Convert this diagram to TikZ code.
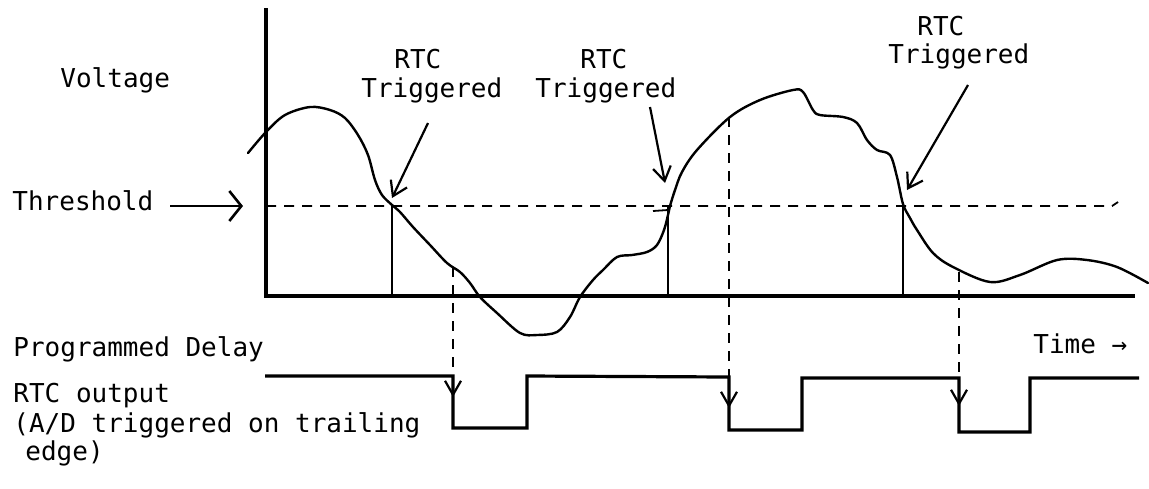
\documentclass[tikz,border=0pt]{standalone}
\usepackage{fontspec}
\setmonofont{DejaVu Sans Mono}
\usetikzlibrary{arrows.meta}
\begin{document}
\begin{tikzpicture}[x=0.5pt,y=-0.5pt,
  lbl/.style={font=\ttfamily\fontsize{13}{13}\selectfont, inner sep=0pt, anchor=base west},
  axisline/.style={line width=1.7pt},
  wave/.style={line width=1.2pt, line join=round, line cap=round},
  thinline/.style={line width=0.9pt},
  dsh/.style={line width=0.9pt, dash pattern=on 5pt off 4pt},
  ptr/.style={line width=1.1pt, -{Straight Barb[length=7pt,width=9pt,line width=1.1pt]}},
  bigptr/.style={line width=1.3pt, -{Straight Barb[length=6pt,width=15pt,line width=1.3pt]}},
  edgeptr/.style={line width=1.1pt, -{Straight Barb[length=7pt,width=8pt,line width=1.1pt]}},
  pulse/.style={line width=1.6pt, line join=miter},
]
\useasboundingbox (0,0) rectangle (1149,488);

% labels
\node[lbl] (volt) at (60,87) {Voltage};
\node[lbl] (thr) at (12,210) {Threshold};
\node[lbl] (rtcA) at (394,68) {RTC};
\node[lbl] (trgA) at (361,97) {Triggered};
\node[lbl] (rtcB) at (580,68) {RTC};
\node[lbl] (trgB) at (535,97) {Triggered};
\node[lbl] (rtcC) at (917,35) {RTC};
\node[lbl] (trgC) at (888,63) {Triggered};
\node[lbl] (pdel) at (13,356) {Programmed Delay};
\node[lbl, align=left, font=\ttfamily\fontsize{13}{11.5}\selectfont] (rout) at (13,460)
  {RTC output\\[1.5pt](A/D triggered on trailing\\\hspace*{6pt}edge)};
\node[lbl] (time) at (1033,353) {Time →};

% coordinates
\coordinate (yTop) at (266,8);
\coordinate (orig) at (266,296);
\coordinate (xEnd) at (1135,296);
\coordinate (thL) at (266,206);
\coordinate (thR) at (1112,206);
\coordinate (thRR) at (1118,202);
\coordinate (thA1) at (170,206);
\coordinate (thA2) at (243,206);
\coordinate (c1) at (392,206);
\coordinate (c2) at (668,206);
\coordinate (c3) at (903,206);
\coordinate (b1) at (392,296);
\coordinate (b2) at (668,296);
\coordinate (b3) at (903,296);
\coordinate (s1) at (428,123);
\coordinate (t1) at (392,198);
\coordinate (s2) at (650,107);
\coordinate (t2) at (665,183);
\coordinate (s3) at (968,85);
\coordinate (t3) at (907,190);
\coordinate (d1) at (453,267);
\coordinate (d2) at (729,117);
\coordinate (d3) at (959,272);
\coordinate (h1) at (453,376);
\coordinate (h2) at (729,377);
\coordinate (h3) at (959,378);
\coordinate (e1) at (453,397);
\coordinate (e2) at (729,408);
\coordinate (e3) at (959,406);

% axes
\draw[axisline] (yTop) -- (orig) -- (xEnd);

% threshold
\draw[dsh] (thL) -- (thR) -- (thRR);
\draw[bigptr] (thA1) -- (thA2);

% voltage curve
\draw[wave] plot[smooth, tension=0.55] coordinates {
 (248,153) (266,132) (285,115) (310,107) (330,110) (345,118) (358,135)
 (368,155) (375,180) (382,195) (392,205) (400,212) (413,227) (430,245)
 (447,263) (460,272) (470,283) (480,297) (497,313) (520,333) (537,335)
 (557,332) (570,317) (580,297) (593,280) (603,270) (617,257) (632,255)
 (647,252) (657,245) (664,230) (668,215) (670,206) (675,190) (682,172)
 (697,150) (730,117) (760,100) (793,90) (803,92) (813,110) (820,115)
 (843,117) (857,123) (867,140) (877,150) (890,155) (897,177) (903,204)
 (910,218) (917,230) (933,253) (953,267) (990,282) (1020,275) (1057,260)
 (1087,260) (1117,267) (1148,283)};
\draw[thinline] (653,211) -- (668,210);

% trigger verticals
\draw[thinline] (c1) -- (b1);
\draw[thinline] (c2) -- (b2);
\draw[thinline] (c3) -- (b3);

% RTC triggered pointers
\draw[ptr] (s1) -- (t1);
\draw[ptr] (s2) -- (t2);
\draw[ptr] (s3) -- (t3);

% delay dashed lines
\draw[dsh] (d1) -- (h1);
\draw[dsh] (d2) -- (h2);
\draw[dsh] (d3) -- (h3);

% RTC output pulse train
\draw[pulse] (265,376) -- (h1) -- (453,428) -- (527,428) -- (527,376) -- (729,377)
  -- (729,430) -- (802,430) -- (802,378) -- (h3) -- (959,432) -- (1030,432)
  -- (1030,378) -- (1139,378);
\draw[edgeptr] (h1) -- (e1);
\draw[edgeptr] (h2) -- (e2);
\draw[edgeptr] (h3) -- (e3);
\end{tikzpicture}
\end{document}
